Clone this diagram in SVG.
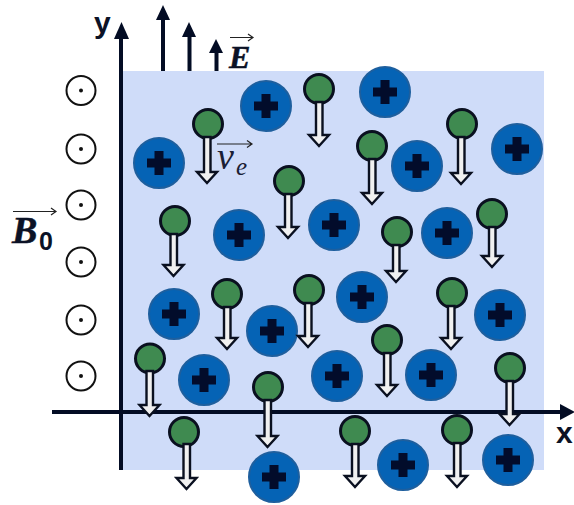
<svg xmlns="http://www.w3.org/2000/svg" width="574" height="505" viewBox="0 0 574 505">
<style>
.ion{fill:#0563b5;stroke:#1e5f9e;stroke-width:2}
.plus{fill:none;stroke:#020c2b;stroke-width:9}
.el{fill:#3f8a50;stroke:#0a1020;stroke-width:3}
.ar{fill:#f0f0f0;stroke:#0a1020;stroke-width:2.400;stroke-linejoin:miter}
.ax{stroke:#030c24;stroke-width:4;fill:none}
.hd{fill:#030c24}
.b{fill:#fff;stroke:#111;stroke-width:2}
.d{fill:#111}
.v{fill:none;stroke:#222;stroke-width:1.2}
.ms{font-family:"Liberation Serif",serif;font-weight:bold;font-style:italic;fill:#0b1226;stroke:#0b1226;stroke-width:.5}
.ax-t{font-family:"Liberation Sans",sans-serif;font-weight:bold;font-size:30px;fill:#0b1226}
</style>
<defs>
<g id="ionS"><circle class="ion" r="25"/><path class="plus" d="M-12 0H12M0-12V12"/></g>
<g id="bS"><circle class="b" r="14.500"/><circle class="d" r="2"/></g>
</defs>
<rect id="field" x="122" y="71" width="422" height="399" fill="#cfdcf9"/>
<g id="connectors">
<path class="ax" d="M121 470V38"/><path class="hd" d="M114 39L121.500 22L129 39Z"/>
<path class="ax" d="M52 412H560"/><path class="hd" d="M560 404L575 412L560 420Z"/>
<path class="ax" d="M163 71V20"/><path class="hd" d="M156 20L163 5L170 20Z"/>
<path class="ax" d="M189.500 71V36"/><path class="hd" d="M182 37L189 22L196 37Z"/>
<path class="ax" d="M216.500 71V52"/><path class="hd" d="M209 53L216 39L223 53Z"/>
</g>
<g id="field-symbols">
<use id="b1" href="#bS" x="81" y="90.500"/>
<use id="b2" href="#bS" x="81" y="149"/>
<use id="b3" href="#bS" x="81" y="205"/>
<use id="b4" href="#bS" x="81" y="262"/>
<use id="b5" href="#bS" x="81" y="320"/>
<use id="b6" href="#bS" x="81" y="376"/>
</g>
<g id="ions">
<use id="ion1" href="#ionS" x="266" y="106"/>
<use id="ion2" href="#ionS" x="385" y="92"/>
<use id="ion3" href="#ionS" x="159" y="163"/>
<use id="ion4" href="#ionS" x="417" y="166"/>
<use id="ion5" href="#ionS" x="517" y="149"/>
<use id="ion6" href="#ionS" x="239" y="235"/>
<use id="ion7" href="#ionS" x="334" y="225"/>
<use id="ion8" href="#ionS" x="447" y="233"/>
<use id="ion9" href="#ionS" x="174" y="314"/>
<use id="ion10" href="#ionS" x="272" y="331"/>
<use id="ion11" href="#ionS" x="362" y="297"/>
<use id="ion12" href="#ionS" x="500" y="315"/>
<use id="ion13" href="#ionS" x="204" y="380"/>
<use id="ion14" href="#ionS" x="337" y="376"/>
<use id="ion15" href="#ionS" x="431" y="375"/>
<use id="ion16" href="#ionS" x="403" y="465"/>
<use id="ion17" href="#ionS" x="508" y="460"/>
<use id="ion18" href="#ionS" x="274" y="477"/>
</g>
<g id="electrons">
<g id="e1"><circle class="el" cx="208" cy="124" r="14.500"/><path class="ar" d="M204 137V172H197L207 183L217 172H210.500V137Z"/></g>
<g id="e2"><circle class="el" cx="319" cy="89" r="14.500"/><path class="ar" d="M316 102V135H309L319 146L329 135H322.500V102Z"/></g>
<g id="e3"><circle class="el" cx="372" cy="146" r="14.500"/><path class="ar" d="M369 159V193H362L372 204L382 193H375.500V159Z"/></g>
<g id="e4"><circle class="el" cx="462" cy="124" r="14.500"/><path class="ar" d="M458 137V173H451L461 184L471 173H464.500V137Z"/></g>
<g id="e5"><circle class="el" cx="289" cy="181" r="14.500"/><path class="ar" d="M285 194V227H278L288 238L298 227H291.500V194Z"/></g>
<g id="e6"><circle class="el" cx="175" cy="221" r="14.500"/><path class="ar" d="M170.500 234V265H163.500L173.500 276L183.500 265H177V234Z"/></g>
<g id="e7"><circle class="el" cx="397" cy="232" r="14.500"/><path class="ar" d="M393 245V271H386L396 282L406 271H399.500V245Z"/></g>
<g id="e8"><circle class="el" cx="492" cy="214" r="14.500"/><path class="ar" d="M489 227V256H482L492 267L502 256H495.500V227Z"/></g>
<g id="e9"><circle class="el" cx="227" cy="294" r="14.500"/><path class="ar" d="M224 307V338H217L227 349L237 338H230.500V307Z"/></g>
<g id="e10"><circle class="el" cx="309" cy="290" r="14.500"/><path class="ar" d="M305 303V336H298L308 347L318 336H311.500V303Z"/></g>
<g id="e11"><circle class="el" cx="452" cy="293" r="14.500"/><path class="ar" d="M448 306V338H441L451 349L461 338H454.500V306Z"/></g>
<g id="e12"><circle class="el" cx="387" cy="340" r="14.500"/><path class="ar" d="M384 353V385H377L387 396L397 385H390.500V353Z"/></g>
<g id="e13"><circle class="el" cx="150" cy="358.500" r="14.500"/><path class="ar" d="M146.500 371V405H139.500L149.500 416L159.500 405H153V371Z"/></g>
<g id="e14"><circle class="el" cx="268" cy="387" r="14.500"/><path class="ar" d="M264.500 400V436H257.500L267.500 447L277.500 436H271V400Z"/></g>
<g id="e15"><circle class="el" cx="510" cy="368" r="14.500"/><path class="ar" d="M506.500 381V414H499.500L509.500 425L519.500 414H513V381Z"/></g>
<g id="e16"><circle class="el" cx="184" cy="432" r="14.500"/><path class="ar" d="M183.500 444V478H176.500L186.500 489L196.500 478H190V444Z"/></g>
<g id="e17"><circle class="el" cx="355" cy="431" r="14.500"/><path class="ar" d="M352 444V476H345L355 487L365 476H358.500V444Z"/></g>
<g id="e18"><circle class="el" cx="457" cy="430" r="14.500"/><path class="ar" d="M454 443V476H447L457 487L467 476H460.500V443Z"/></g>
</g>
<g id="labels">
<text class="ax-t" x="94" y="33">y</text>
<text class="ax-t" x="556" y="443">x</text>
<text class="ms" x="229" y="68" font-size="32">E</text>
<path class="v" d="M230 37.500H253M248 34L253 37.500L248 41"/>
<text x="217" y="169" font-family="Liberation Serif,serif" font-style="italic" font-size="38" fill="#1a2035">v</text>
<text x="236" y="175" font-family="Liberation Serif,serif" font-style="italic" font-size="25" fill="#1a2035">e</text>
<path class="v" d="M217 144H252M247 140.500L252 144L247 147.500"/>
<text class="ms" x="12" y="243" font-size="38">B</text>
<text x="39" y="250" font-family="Liberation Sans,sans-serif" font-weight="bold" font-size="25" fill="#0b1226">0</text>
<path class="v" d="M13 211.500H56M51 208L56 211.500L51 215"/>
</g>
</svg>
